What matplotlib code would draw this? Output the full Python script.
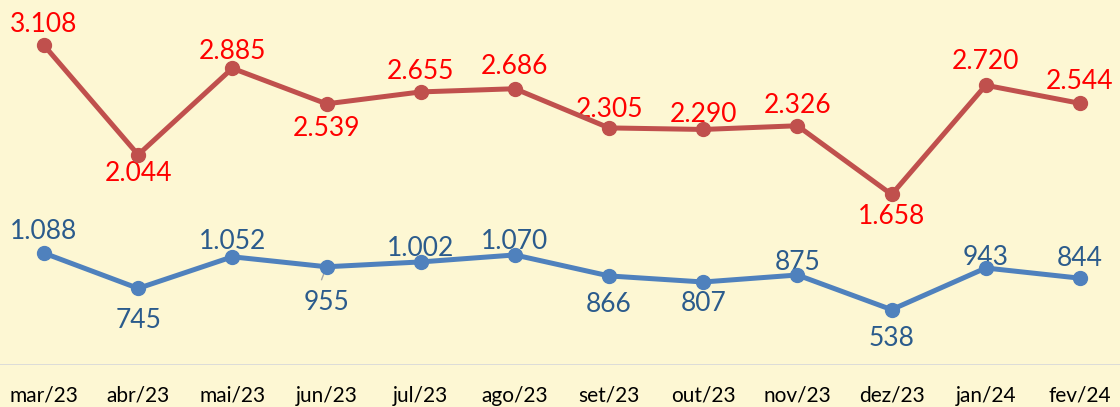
import matplotlib
matplotlib.use('Agg')
import matplotlib.pyplot as plt

meses = ['mar/23', 'abr/23', 'mai/23', 'jun/23', 'jul/23', 'ago/23',
         'set/23', 'out/23', 'nov/23', 'dez/23', 'jan/24', 'fev/24']
serie_vermelha = [3108, 2044, 2885, 2539, 2655, 2686, 2305, 2290, 2326, 1658, 2720, 2544]
serie_azul = [1088, 745, 1052, 955, 1002, 1070, 866, 807, 875, 538, 943, 844]

# label offsets from the marker, in pixels (negative = above)
desl_vermelha = [-21, 19, -17, 25, -20, -22, -18, -15, -20, 22, -24, -22]
desl_azul = [-22, 32, -15, 36, -13, -13, 29, 22, -12, 29, -11, -20]

plt.rcParams['font.family'] = ['Lato', 'DejaVu Sans']
bg = '#FDF7D3'
px = 0.72  # pixel -> points at 100 dpi

fig = plt.figure(figsize=(11.2, 4.07), dpi=100, facecolor=bg)
ax = fig.add_axes([0, 42/407, 1, 360/407], facecolor=bg)

x = list(range(len(meses)))
ax.plot(x, serie_vermelha, color='#C0504D', lw=3.6, marker='o', ms=10,
        solid_capstyle='round', zorder=3)
ax.plot(x, serie_azul, color='#4F81BD', lw=3.6, marker='o', ms=10,
        solid_capstyle='round', zorder=3)

def fmt(v):
    return f'{v:,}'.replace(',', '.')

# labels sit under the lines, like in the original
for xi, v, d in zip(x, serie_vermelha, desl_vermelha):
    ax.annotate(fmt(v), (xi, v), xytext=(0, -d * px), textcoords='offset points',
                ha='center', va='center', fontsize=19, color='#FF0000', zorder=2)
for xi, v, d in zip(x, serie_azul, desl_azul):
    ax.annotate(fmt(v), (xi, v), xytext=(0, -d * px), textcoords='offset points',
                ha='center', va='center', fontsize=19, color='#2B5B8C', zorder=2)

# small leader line under the 955 point
ax.annotate('', (3, serie_azul[3]), xytext=(-5 * px, -13 * px), textcoords='offset points',
            arrowprops=dict(arrowstyle='-', color='#A6A6A6', lw=1, shrinkA=0, shrinkB=0),
            zorder=2)

ax.set_xlim(-0.467, 11.425)
ax.set_ylim(0, 3500)
ax.axhline(0, color='#D9D9D9', lw=2, zorder=1)
for s in ax.spines.values():
    s.set_visible(False)
ax.set_yticks([])
ax.set_xticks(x)
ax.set_xticklabels(meses, fontsize=15, color='black')
ax.tick_params(axis='x', length=0, pad=15)

fig.savefig('out.png', dpi=100, facecolor=bg)
